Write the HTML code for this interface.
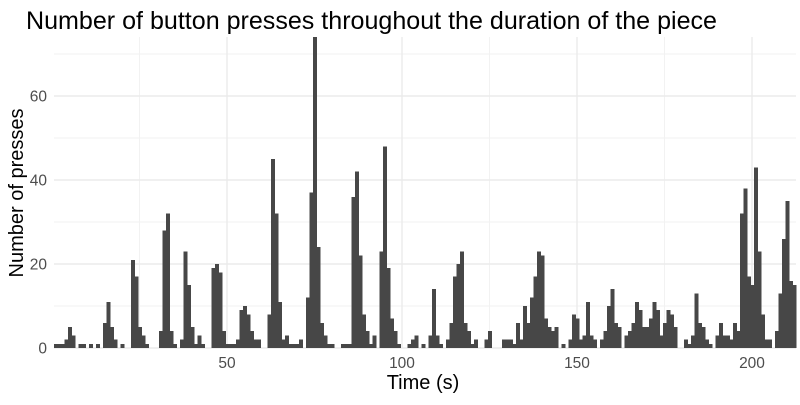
<!DOCTYPE html>
<html><head><meta charset="utf-8"><style>
body{margin:0;background:#fff;}
svg text{font-family:"Liberation Sans",Arial,sans-serif;}
</style></head><body>
<svg id="chart" width="800" height="400" xmlns="http://www.w3.org/2000/svg">
<rect width="800" height="400" fill="#fff"/>
<g id="grid"></g>
<g id="bars" shape-rendering="crispEdges"></g>
<g id="axes"></g>
<text x="26" y="29" font-size="25" fill="#000" textLength="691" lengthAdjust="spacingAndGlyphs">Number of button presses throughout the duration of the piece</text>
<text x="423" y="389" font-size="20" fill="#000" text-anchor="middle">Time (s)</text>
<text transform="translate(23,193) rotate(-90)" font-size="20" fill="#000" text-anchor="middle">Number of presses</text>
</svg>
<script>
const counts = [1,1,1,2,5,3,0,1,1,0,1,0,1,0,6,11,5,2,0,1,0,0,21,17,5,3,1,0,0,0,4,28,32,4,1,0,2,23,15,5,1,3,1,0,0,19,20,18,4,1,1,1,2,
9,10,8,4,2,2,0,0,8,45,32,11,2,3,1,1,1,2,0,12,37,74,24,6,3,1,1,0,0,1,1,1,36,42,22,8,4,1,3,0,23,48,19,7,4,1,0,0,1,2,3,0,1,0,3,14,3,1,0,2,6,17,20,23,6,4,1,2,0,0,2,4,0,0,0,2,2,2,1,6,2,10,6,12,17,23,22,7,5,4,5,0,1,0,2,8,7,2,3,11,3,2,0,2,4,10,14,6,5,0,3,4,6,11,9,5,5,7,11,9,3,6,9,8,5,0,0,2,1,3,13,6,5,2,1,0,3,6,3,3,2,6,4,32,38,17,15,43,23,8,2,2,0,4,13,26,35,16,15];
const binStart = 0.5;
const binWidth = 1;
const xTicks = [50,100,150,200];
const xMinor = [25,75,125,175];
const yTicks = [0,20,40,60];
const yMinor = [10,30,50,70];

const NS="http://www.w3.org/2000/svg";
const L=54,R=796,T=37,B=348;
const xs=t=>52+3.5*t;
const ys=v=>348-4.2*v;
function mk(tag,attrs,parent){const e=document.createElementNS(NS,tag);for(const k in attrs)e.setAttribute(k,attrs[k]);parent.appendChild(e);return e;}
const grid=document.getElementById('grid'),bars=document.getElementById('bars'),axes=document.getElementById('axes');
yMinor.forEach(v=>{const e=mk('line',{x1:L,x2:R,y1:ys(v),y2:ys(v),stroke:'#f2f2f2','stroke-width':1},grid);

});
xMinor.forEach(v=>{const e=mk('line',{x1:xs(v),x2:xs(v),y1:T,y2:B,stroke:'#f2f2f2','stroke-width':1},grid);

});
yTicks.forEach(v=>{const e=mk('line',{x1:L,x2:R,y1:ys(v),y2:ys(v),stroke:'#ebebeb','stroke-width':1.4},grid);


const t=mk('text',{x:47,y:ys(v)+5.5,'font-size':15.5,fill:'#4d4d4d','text-anchor':'end'},axes);t.textContent=v;

});
xTicks.forEach(v=>{const e=mk('line',{x1:xs(v),x2:xs(v),y1:T,y2:B,stroke:'#ebebeb','stroke-width':1.4},grid);


const t=mk('text',{x:xs(v),y:368,'font-size':15.5,fill:'#4d4d4d','text-anchor':'middle'},axes);t.textContent=v;

});
counts.forEach((c,i)=>{if(c<=0)return;const x0=xs(binStart+i*binWidth),x1=xs(binStart+(i+1)*binWidth);
const r=mk('rect',{x:x0,y:ys(c),width:x1-x0+0.6,height:ys(0)-ys(c),fill:'#474747'},bars);

});
</script>
</body></html>
